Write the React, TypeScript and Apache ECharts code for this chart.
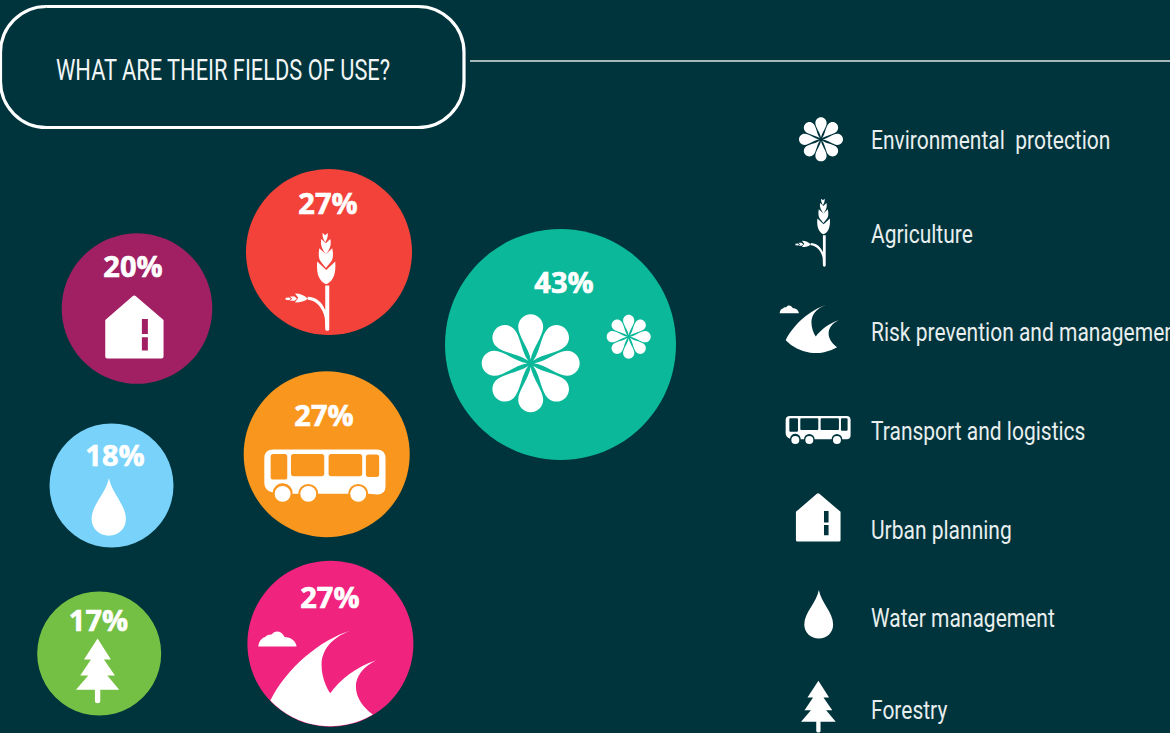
import React, { useEffect, useRef } from "react";
import * as echarts from "echarts";

const title = "WHAT ARE THEIR FIELDS OF USE?";
const categories = [
  "Environmental  protection",
  "Agriculture",
  "Risk prevention and management",
  "Transport and logistics",
  "Urban planning",
  "Water management",
  "Forestry",
];
const percentages = [43, 27, 27, 27, 20, 18, 17];

// layout and styling, separate from the values
const bubbleColors = ["#0BB89A", "#F3423A", "#F0237F", "#F9961E", "#A02063", "#78D2FA", "#74C044"];
const bubbleCenters = [[560.5, 344.5], [329, 252], [330.4, 643.7], [326.7, 454.2], [137, 308.6], [111.5, 485.5], [99.2, 653.5]];
const bubbleDiameters = [231, 166, 166, 166, 150.5, 124, 124];
const labelOffsets = [[3.5, -63], [-1, -50], [-0.5, -47.5], [-2.7, -40], [-4, -43], [3.5, -31.5], [-0.7, -34.5]];
const legendY = [141, 235, 333, 432, 531, 619, 711];

const BG = "#00343C";

function rot(x: number, y: number, a: number) {
  const c = Math.cos(a), s = Math.sin(a);
  return `${(x * c - y * s).toFixed(4)},${(x * s + y * c).toFixed(4)}`;
}
function flowerPath() {
  let d = "";
  for (let k = 0; k < 8; k++) {
    const a = (k * Math.PI) / 4;
    const p = (x: number, y: number) => rot(x * 100, y * 100, a);
    d += `M${p(0, -0.07)}C${p(0.03, -0.3)} ${p(0.255, -0.55)} ${p(0.255, -0.745)}C${p(0.255, -0.885)} ${p(0.14, -1)} ${p(0, -1)}C${p(-0.14, -1)} ${p(-0.255, -0.885)} ${p(-0.255, -0.745)}C${p(-0.255, -0.55)} ${p(-0.03, -0.3)} ${p(0, -0.07)}Z`;
  }
  return d;
}
const circle = (cx: number, cy: number, r: number) =>
  `M${cx - r},${cy}A${r},${r} 0 1 1 ${cx + r},${cy}A${r},${r} 0 1 1 ${cx - r},${cy}Z`;
const hole = (x0: number, y0: number, x1: number, y1: number, r: number) =>
  `M${x0 + r},${y0}Q${x0},${y0} ${x0},${y0 + r}L${x0},${y1 - r}Q${x0},${y1} ${x0 + r},${y1}L${x1 - r},${y1}Q${x1},${y1} ${x1},${y1 - r}L${x1},${y0 + r}Q${x1},${y0} ${x1 - r},${y0}Z`;

const wheatPath =
  "M256,362L268,362L268,493Q268,498 262,498Q256,498 256,493L255,462C250,430 228,406 203,405L203,396C228,396 246,412 256,436Z" +
  "M259,358C240,350 228,330 232,290L259,315L286,290C289,330 278,350 259,358Z" +
  "M238,250L258,268L277,250C281,268 280,283 272,292L258,309L244,292C236,283 235,268 238,250Z" +
  "M244,222L258,235L271,222C275,236 272,250 258,268C244,250 241,236 244,222Z" +
  "M248,204L256,211L263,204C265,214 262,222 256,232C250,222 247,214 248,204Z" +
  "M203,402C195,392 182,386 165,386L175,399L165,413C182,413 195,410 203,402Z" +
  "M164,395L150,395L157,402L150,408L164,408L171,402Z" +
  "M148,398L137,399L137,405L148,406L153,402Z";
const wavePath =
  "M91,437C140,340 240,255 333,227C270,250 245,290 245,330C245,365 258,395 271,415C300,375 350,335 408,317C370,335 348,365 348,395C348,430 372,460 399,479A249,249 0 0 1 91,437Z";
const cloudPath =
  "M55,275C56,262 62,250 76,246C82,238 92,240 96,238C104,226 124,226 134,246C152,246 168,258 170,275Z";
const busPath =
  "M100,245L410,245Q437,245 437,272L437,355Q437,380 412,380L385,378A30,30 0 0 0 325,378L235,378A30,30 0 0 0 175,378L158,378A30,30 0 0 0 98,374Q73,368 73,345L73,272Q73,245 100,245Z" +
  hole(92, 258, 142, 335, 8) + hole(153, 258, 253, 325, 8) + hole(266, 258, 367, 325, 8) + hole(378, 260, 418, 327, 8) +
  circle(128, 378, 24) + circle(205, 378, 24) + circle(355, 378, 24);
const busLegendPath =
  "M30,18L200,18Q212,18 212,30L212,76Q212,88 200,88L187,88A16,16 0 0 0 155,88L104,88A16,16 0 0 0 72,88L62,88A16,16 0 0 0 30,86Q17,82 17,70L17,30Q17,18 30,18Z" +
  hole(28, 25, 54, 65, 3) + hole(61, 25, 115, 60, 3) + hole(122, 25, 177, 60, 3) + hole(183, 25, 203, 62, 3) +
  circle(46, 90, 12) + circle(88, 90, 12) + circle(171, 90, 12);
const housePath =
  "M308,199Q313,195 318,199L401,270L401,380Q401,386 395,386L232,386Q226,386 226,380L226,270Z" +
  hole(336, 267, 354, 312, 0.01) + hole(336, 322, 354, 362, 0.01);
const dropPath =
  "M237,745C245,790 288,825 288,868C288,898 265,918 237,918C209,918 185,898 185,868C185,825 229,790 237,745Z";
const treePath =
  "M203,1227L243,1290L222,1290L255,1338L232,1338L268,1381L211,1381L211,1415Q211,1421 203,1421Q195,1421 195,1415L195,1381L138,1381L175,1338L151,1338L183,1290L162,1290Z";

const shapes: Record<string, string> = {
  flower: flowerPath(), wheat: wheatPath, wave: wavePath, cloud: cloudPath,
  bus: busPath, busLegend: busLegendPath, house: housePath, drop: dropPath, tree: treePath,
};
Object.keys(shapes).forEach((k) =>
  echarts.graphic.registerShape("icon-" + k, echarts.graphic.extendPath(shapes[k], {}))
);

const icon = (name: string, x: number, y: number, s: number) => ({
  type: "icon-" + name, x, y, scaleX: s, scaleY: s, z: 10, silent: true,
  style: { fill: "#FFFFFF" },
});

const iconPlacements: any[] = [
  ["flower", 530.7, 363.3, 0.49], ["flower", 628.7, 336.7, 0.22],
  ["wheat", 240, 165, 1 / 3],
  ["wave", 240, 555, 1 / 3], ["cloud", 240, 555, 1 / 3],
  ["bus", 240, 368, 1 / 3],
  ["house", 30, 230, 1 / 3], ["drop", 30, 230, 1 / 3], ["tree", 30, 230, 1 / 3],
  ["flower", 821, 139.3, 0.22],
  ["wheat", 763.8, 151.6, 0.231],
  ["wave", 770.5, 267.2, 1 / 6], ["cloud", 770.5, 267.2, 1 / 6],
  ["busLegend", 780, 410, 1 / 3],
  ["house", 738.3, 443, 0.2553],
  ["drop", 752.5, 381.4, 0.28],
  ["tree", 764.2, 353.1, 0.267],
];

export default function App() {
  const ref = useRef<HTMLDivElement>(null);
  useEffect(() => {
    document.body.style.margin = "0";
    document.body.style.background = BG;
    const chart = echarts.init(ref.current!, undefined, { renderer: "svg" });
    chart.setOption({
      animation: false,
      backgroundColor: BG,
      grid: { left: 0, right: 0, top: 0, bottom: 0 },
      xAxis: { type: "value", min: 0, max: 1170, show: false },
      yAxis: { type: "value", min: 0, max: 733, inverse: true, show: false },
      series: [
        {
          type: "scatter",
          silent: true,
          clip: false,
          data: percentages.map((v, i) => ({
            name: categories[i],
            value: [bubbleCenters[i][0], bubbleCenters[i][1], v],
            symbolSize: bubbleDiameters[i],
            itemStyle: { color: bubbleColors[i], opacity: 1 },
            label: {
              show: true,
              position: "inside",
              offset: labelOffsets[i],
              formatter: `${v}%`,
              color: "#FFFFFF",
              fontFamily: "Open Sans",
              fontWeight: "bold",
              fontSize: 29,
              textBorderColor: "#FFFFFF",
              textBorderWidth: 0.6,
            },
          })),
        },
      ],
      graphic: {
        elements: [
          {
            type: "rect",
            shape: { x: 0.5, y: 6.5, width: 463.5, height: 121, r: 46 },
            style: { fill: "none", stroke: "#FFFFFF", lineWidth: 3.2 },
            silent: true,
          },
          {
            type: "line",
            shape: { x1: 470, y1: 61, x2: 1170, y2: 61 },
            style: { stroke: "#DCE6E6", lineWidth: 1.5 },
            silent: true,
          },
          {
            type: "text",
            x: 56,
            y: 70,
            scaleX: 0.753,
            silent: true,
            style: {
              text: title,
              fill: "#F2F6F6",
              fontFamily: "Roboto",
              fontWeight: 400,
              fontSize: 29,
              align: "left",
              verticalAlign: "middle",
            },
          },
          ...categories.map((c, i) => ({
            type: "text",
            x: 871,
            y: legendY[i],
            scaleX: 0.84,
            silent: true,
            style: {
              text: c,
              fill: "#E8EEEE",
              fontFamily: "Roboto",
              fontWeight: 400,
              fontSize: 25,
              align: "left",
              verticalAlign: "middle",
            },
          })),
          ...iconPlacements.map((p) => icon(p[0], p[1], p[2], p[3])),
        ],
      },
    });
    return () => chart.dispose();
  }, []);
  return <div ref={ref} style={{ width: 1170, height: 733 }} />;
}
